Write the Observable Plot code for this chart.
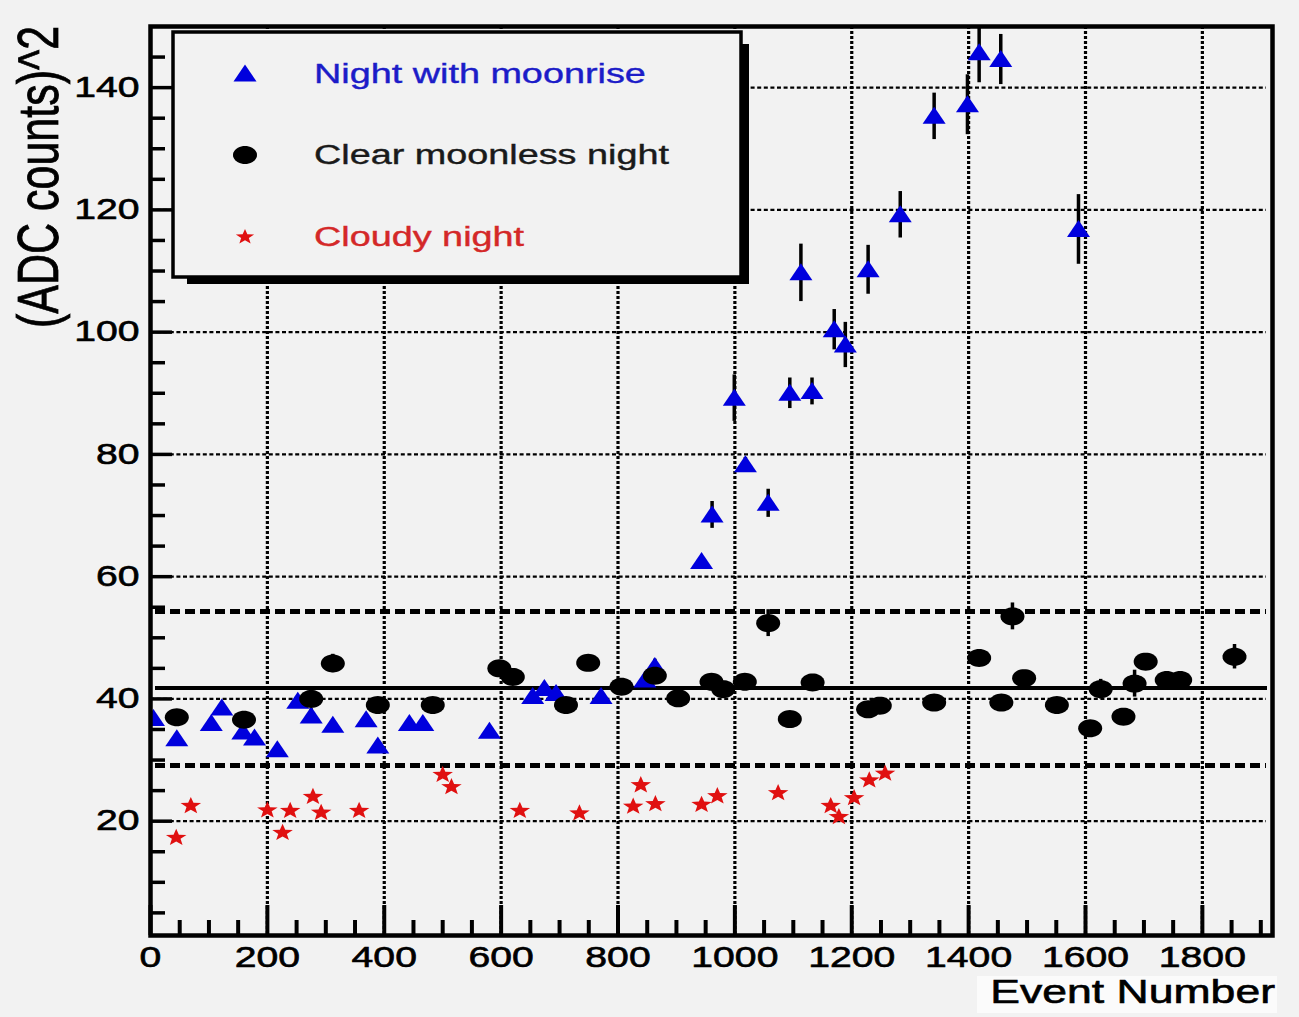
<!DOCTYPE html>
<html><head><meta charset="utf-8">
<script src="https://cdn.jsdelivr.net/npm/d3@7"></script>
<script src="https://cdn.jsdelivr.net/npm/@observablehq/plot@0.6"></script>
<style>
html,body{margin:0;padding:0;background:#f2f2f2;}
#chart{position:relative;width:1299px;height:1017px;overflow:hidden;}
</style></head><body><div id="chart"></div>
<script>
// ---- data ----
const moonX = [5, 45, 104, 122, 158, 178, 217, 252, 275, 312, 369, 389, 443, 466, 580, 654, 674, 694, 771, 846, 863, 943, 961, 999, 1018, 1057, 1094, 1113, 1132, 1170, 1189, 1228, 1283, 1341, 1398, 1418, 1455, 1588];
const moonY = [36.8, 33.5, 36.0, 38.5, 34.6, 33.6, 31.7, 39.6, 37.2, 35.7, 36.6, 32.3, 36.0, 36.0, 34.7, 40.4, 41.7, 40.9, 40.4, 43.1, 45.3, 62.5, 70.1, 89.2, 78.3, 72.0, 90.0, 109.7, 90.3, 100.4, 97.9, 110.2, 119.2, 135.3, 137.2, 145.7, 144.6, 116.8];
const moonErr = [0.8, 0.8, 0.8, 0.8, 0.8, 0.8, 0.8, 0.8, 1.2, 0.8, 0.8, 0.8, 0.8, 0.8, 0.8, 0.8, 0.8, 0.8, 0.8, 0.8, 1.2, 0.8, 2.2, 3.8, 1.2, 2.3, 2.5, 4.7, 2.2, 3.3, 3.7, 4.0, 3.8, 3.8, 4.9, 4.9, 4.1, 5.7];

const clearX = [45, 160, 275, 312, 389, 483, 597, 620, 711, 749, 806, 863, 903, 960, 980, 1017, 1057, 1094, 1133, 1228, 1248, 1341, 1418, 1456, 1475, 1495, 1551, 1608, 1626, 1665, 1684, 1703, 1739, 1762, 1855];
const clearY = [37.0, 36.6, 40.0, 45.8, 39.0, 39.0, 45.0, 43.6, 39.0, 45.9, 42.0, 43.8, 40.1, 42.8, 41.6, 42.8, 52.4, 36.7, 42.7, 38.3, 38.9, 39.4, 46.7, 39.4, 53.5, 43.4, 39.0, 35.2, 41.6, 37.1, 42.5, 46.1, 43.1, 43.1, 46.9];
const clearErr = [0.8, 0.8, 0.8, 1.5, 0.8, 0.8, 0.8, 0.8, 0.8, 0.8, 0.8, 0.8, 0.8, 0.8, 0.8, 0.8, 2.2, 0.8, 0.8, 0.8, 0.8, 0.8, 0.8, 0.8, 2.2, 0.8, 0.8, 0.8, 1.6, 0.8, 2.2, 0.8, 0.8, 0.8, 2.0];

const cloudyX = [44, 69, 200, 226, 239, 278, 292, 357, 500, 515, 632, 734, 826, 839, 864, 943, 970, 1074, 1164, 1178, 1204, 1230, 1257];
const cloudyY = [17.3, 22.5, 21.8, 18.1, 21.7, 24.0, 21.4, 21.7, 27.6, 25.6, 21.7, 21.3, 22.4, 25.9, 22.8, 22.7, 24.1, 24.6, 22.5, 20.7, 23.8, 26.7, 27.8];

const meanLevel = [41.8];
const bandLevels = [54.3, 29.1];

const xMajor = [0, 200, 400, 600, 800, 1000, 1200, 1400, 1600, 1800];
const xMinor = d3.range(50, 1920, 50).filter(v => v % 200 !== 0);
const yMajor = [20, 40, 60, 80, 100, 120, 140];
const yMinor = d3.range(5, 150, 5).filter(v => v % 20 !== 0);

const legendLabels = ["Night with moonrise", "Clear moonless night", "Cloudy night"];
const legendColors = ["#1c1cc8", "#1a1a1a", "#d42828"];
const markerColors = ["#0000dd", "#000000", "#e01010"];
const xTitle = "Event Number";
const yTitle = "(ADC counts)^2";

// ---- layout ----
const W = 1299, H = 1017, ML = 150, MR = 27, MT = 26, MB = 82;
const FW = W - ML - MR, FH = H - MT - MB;
const STRETCH = 1.35;
const FONT = "'Liberation Sans', Arial, Helvetica, sans-serif";

// symbols (horizontally stretched like the original picture)
function ellipseSym(kx, ky) {
  return {draw(ctx, size) {
    const r = Math.sqrt(size / Math.PI), n = 40;
    for (let i = 0; i < n; i++) {
      const a = 2 * Math.PI * i / n, px = kx * r * Math.cos(a), py = ky * r * Math.sin(a);
      i ? ctx.lineTo(px, py) : ctx.moveTo(px, py);
    }
    ctx.closePath();
  }};
}
const circleSym = ellipseSym(1.2, 0.9);
const triSym = {draw(ctx, size) {
  const r = Math.sqrt(size / Math.PI);
  ctx.moveTo(0, -0.95 * r); ctx.lineTo(1.15 * r, 0.75 * r); ctx.lineTo(-1.15 * r, 0.75 * r); ctx.closePath();
}};
const starSym = {draw(ctx, size) {
  const r = Math.sqrt(size / Math.PI);
  for (let i = 0; i < 10; i++) {
    const a = -Math.PI / 2 + i * Math.PI / 5, rr = i % 2 ? 0.42 * r : r;
    const px = 1.2 * rr * Math.cos(a), py = rr * Math.sin(a);
    i ? ctx.lineTo(px, py) : ctx.moveTo(px, py);
  }
  ctx.closePath();
}};
const legendSyms = [triSym, circleSym, starSym];
const legendR = [10, 10, 8];

const moon = moonX.map((x, i) => ({x, y: moonY[i], e: moonErr[i]}));
const clear = clearX.map((x, i) => ({x, y: clearY[i], e: clearErr[i]}));
const cloudy = cloudyX.map((x, i) => ({x, y: cloudyY[i]}));

const svg = Plot.plot({
  width: W, height: H, marginLeft: ML, marginRight: MR, marginTop: MT, marginBottom: MB,
  style: {background: "transparent", fontFamily: FONT, color: "black", overflow: "visible"},
  x: {domain: [0, 1920]},
  y: {domain: [1.3, 150]},
  marks: [
    Plot.gridY(yMajor, {stroke: "black", strokeOpacity: 1, strokeWidth: 2.2, strokeDasharray: "4,2.6", insetRight: 6}),
    Plot.gridX(xMajor.filter(v => v > 0), {stroke: "black", strokeOpacity: 1, strokeWidth: 3.2, strokeDasharray: "3,2"}),
    Plot.tickX(xMajor, {x: d => d, insetTop: FH - 30, strokeWidth: 4}),
    Plot.tickX(xMinor, {x: d => d, insetTop: FH - 15, strokeWidth: 4}),
    Plot.tickY(yMajor, {y: d => d, insetRight: FW - 22, strokeWidth: 3.5}),
    Plot.tickY(yMinor, {y: d => d, insetRight: FW - 15, strokeWidth: 3.5}),
    Plot.ruleY(bandLevels, {stroke: "black", strokeWidth: 5, strokeDasharray: "10,5", insetLeft: 5, insetRight: 6}),
    Plot.ruleY(meanLevel, {stroke: "black", strokeWidth: 4, insetLeft: 5, insetRight: 5}),
    Plot.ruleX(moon, {x: "x", y1: d => d.y - d.e, y2: d => d.y + d.e, stroke: "black", strokeWidth: 3.5, clip: true}),
    Plot.dot(moon, {x: "x", y: "y", symbol: triSym, r: 10, fill: markerColors[0], stroke: "none", clip: true}),
    Plot.ruleX(clear, {x: "x", y1: d => d.y - d.e, y2: d => d.y + d.e, stroke: "black", strokeWidth: 3.5}),
    Plot.dot(clear, {x: "x", y: "y", symbol: circleSym, r: 10, fill: markerColors[1], stroke: "none"}),
    Plot.dot(cloudy, {x: "x", y: "y", symbol: starSym, r: 9, fill: markerColors[2], stroke: "none"}),
    Plot.axisX({ticks: xMajor, tickSize: 0, tickPadding: 11, fontSize: 29, label: null, tickFormat: d => String(d)}),
    Plot.axisY({ticks: yMajor, tickSize: 0, tickPadding: 11, fontSize: 29, label: null, tickFormat: d => String(d)}),
    Plot.frame({stroke: "black", strokeWidth: 4.5})
  ]
});

// stretch tick labels horizontally, like the source picture
svg.querySelectorAll("text").forEach(t => {
  const tr = t.getAttribute("transform");
  if (tr && tr.includes("translate")) {
    t.setAttribute("transform", tr + ` scale(${STRETCH},1)`);
  } else {
    const x = +(t.getAttribute("x") || 0);
    const y = t.getAttribute("y");
    t.removeAttribute("x");
    const ty = (y && !String(y).includes("em")) ? +y : 0;
    if (y && !String(y).includes("em")) t.removeAttribute("y");
    t.setAttribute("transform", `${tr || ""} translate(${x},${ty}) scale(${STRETCH},1)`);
  }
  t.setAttribute("stroke", "black");
  t.setAttribute("stroke-width", "0.6");
});

const s = d3.select(svg);
// axis titles
s.append("rect").attr("x", 977).attr("y", 976).attr("width", 300).attr("height", 37).attr("fill", "#fbfbfb");
s.append("text").text(xTitle)
  .attr("transform", `translate(1275,1003) scale(${STRETCH},1)`)
  .attr("text-anchor", "end").attr("font-family", FONT).attr("font-size", 33)
  .attr("fill", "black").attr("stroke", "black").attr("stroke-width", 0.6);
s.append("text").text(yTitle)
  .attr("transform", `translate(58,177) rotate(-90) scale(1,${STRETCH})`)
  .attr("text-anchor", "middle").attr("font-family", FONT).attr("font-size", 43)
  .attr("fill", "black").attr("stroke", "black").attr("stroke-width", 0.6);

// legend box with shadow
const lg = s.append("g");
lg.append("rect").attr("x", 741).attr("y", 44).attr("width", 8).attr("height", 240).attr("fill", "black");
lg.append("rect").attr("x", 187).attr("y", 277).attr("width", 562).attr("height", 7).attr("fill", "black");
lg.append("rect").attr("x", 173).attr("y", 32).attr("width", 568).attr("height", 245)
  .attr("fill", "#f2f2f2").attr("stroke", "black").attr("stroke-width", 3.5);
const rowY = [74, 155, 237];
legendLabels.forEach((lab, i) => {
  lg.append("path").attr("d", d3.symbol(legendSyms[i], Math.PI * legendR[i] * legendR[i])())
    .attr("transform", `translate(245,${rowY[i]})`).attr("fill", markerColors[i]);
  lg.append("text").text(lab)
    .attr("transform", `translate(314,${rowY[i] + 9}) scale(${STRETCH},1)`)
    .attr("text-anchor", "start")
    .attr("font-family", FONT).attr("font-size", 28)
    .attr("fill", legendColors[i]).attr("stroke", legendColors[i]).attr("stroke-width", 0.4);
});

document.getElementById("chart").appendChild(svg);
</script></body></html>
